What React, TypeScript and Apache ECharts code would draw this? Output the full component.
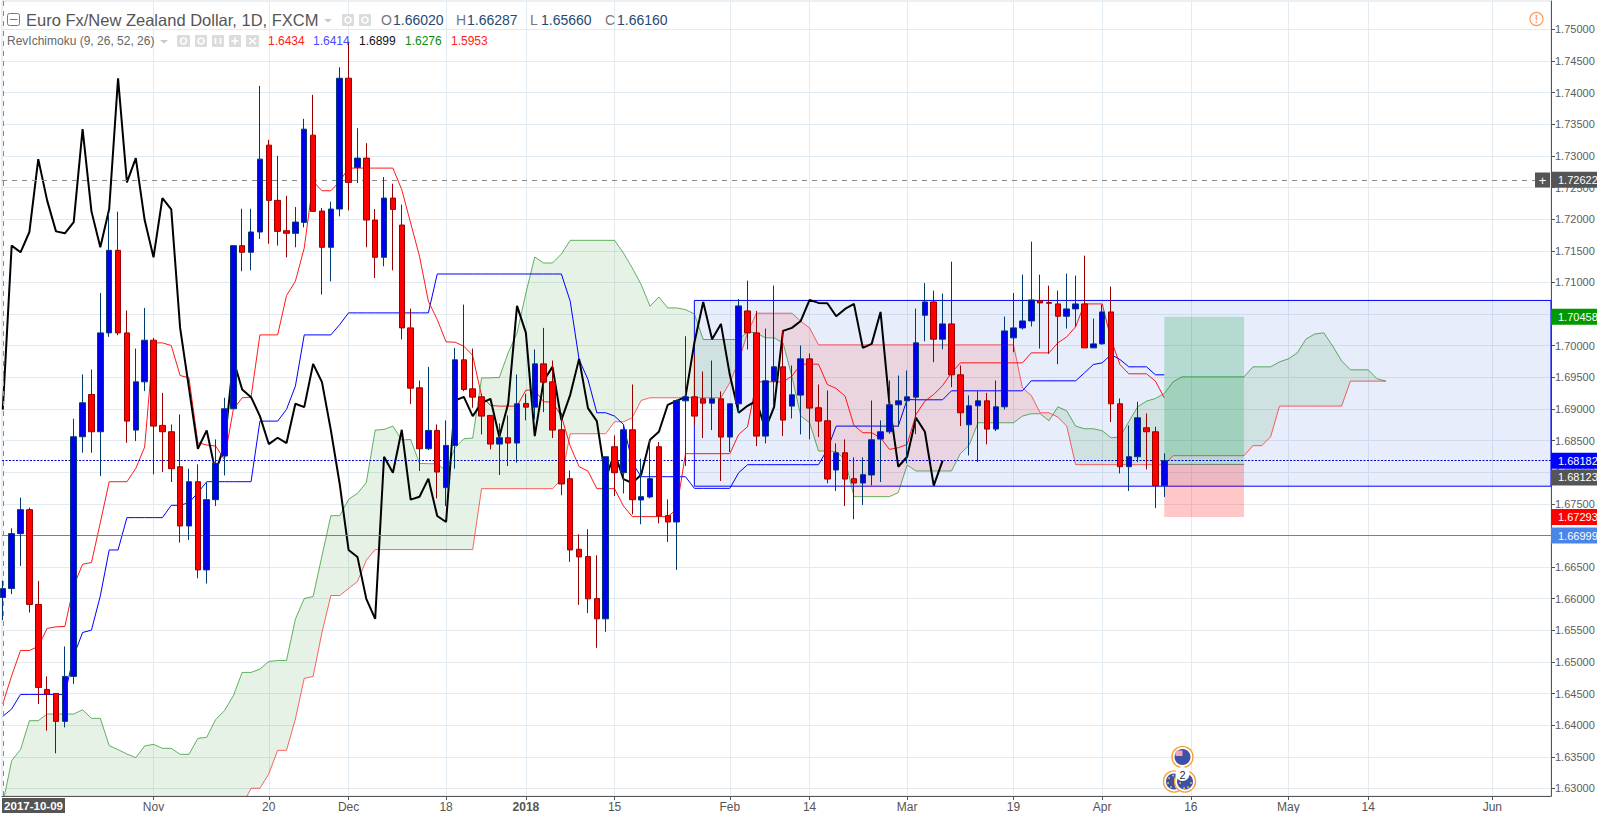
import React, { useEffect, useRef } from "react";
import * as echarts from "echarts";

const FONT = '"Liberation Sans", Arial, sans-serif';

const priceTicks = [1.63, 1.635, 1.64, 1.645, 1.65, 1.655, 1.66, 1.665, 1.67, 1.675, 1.68, 1.685, 1.69, 1.695, 1.7, 1.705, 1.71, 1.715, 1.72, 1.725, 1.73, 1.735, 1.74, 1.745, 1.75];
const dateSlots = [17, 30, 39, 50, 59, 69, 82, 91, 102, 114, 124, 134, 145, 154, 168];
const dateLabels = ["Nov", "20", "Dec", "18", "2018", "15", "Feb", "14", "Mar", "19", "Apr", "16", "May", "14", "Jun"];

const opens = [1.6602,1.66161,1.67029,1.67408,1.65909,1.64566,1.64503,1.64061,1.64772,1.68561,1.69229,1.6864,1.70203,1.71508,1.70203,1.68666,1.69429,1.70087,1.6874,1.6864,1.68087,1.6715,1.6785,1.66456,1.67566,1.68256,1.69003,1.71582,1.71477,1.71798,1.73171,1.72298,1.71819,1.71777,1.7195,1.73329,1.72129,1.71556,1.72161,1.74229,1.72819,1.72966,1.71987,1.71398,1.72334,1.71908,1.70282,1.69335,1.68371,1.68661,1.67756,1.68424,1.69777,1.69319,1.69192,1.68898,1.68445,1.68545,1.68461,1.69087,1.69029,1.69713,1.69429,1.68671,1.67898,1.66782,1.66666,1.66003,1.65682,1.68403,1.67992,1.68671,1.67561,1.67608,1.68403,1.67313,1.67213,1.69129,1.69192,1.69161,1.69092,1.69161,1.68556,1.69082,1.7055,1.70203,1.68571,1.6944,1.69666,1.69045,1.69219,1.69792,1.69019,1.68813,1.68035,1.68308,1.67898,1.67829,1.67956,1.68524,1.6864,1.69066,1.69129,1.69187,1.70482,1.70692,1.70103,1.70345,1.6954,1.6875,1.6905,1.69129,1.68682,1.69034,1.70124,1.70282,1.70392,1.70713,1.70682,1.70661,1.70466,1.70582,1.70661,1.69966,1.70029,1.70534,1.69082,1.68087,1.68245,1.68703,1.6864,1.67787];
const closes = [1.6616,1.67029,1.67408,1.65909,1.64598,1.64493,1.64061,1.64772,1.68561,1.69098,1.6864,1.70203,1.71508,1.70203,1.68808,1.69429,1.70087,1.68729,1.6864,1.68056,1.6715,1.6785,1.66456,1.67566,1.6814,1.69003,1.71582,1.71477,1.71798,1.7295,1.72298,1.71808,1.71777,1.71955,1.73424,1.72124,1.71556,1.72161,1.74229,1.72582,1.72966,1.71987,1.71398,1.72334,1.72155,1.70282,1.69329,1.68371,1.68661,1.68003,1.68424,1.69777,1.69308,1.69187,1.68887,1.68445,1.68545,1.68461,1.69082,1.69029,1.69713,1.69424,1.68666,1.67814,1.66771,1.66661,1.65998,1.65682,1.68245,1.67992,1.68671,1.67566,1.67613,1.67898,1.67308,1.67213,1.69134,1.69192,1.68887,1.69092,1.69161,1.68556,1.69082,1.70629,1.70203,1.68571,1.69445,1.69666,1.68824,1.69224,1.69792,1.69014,1.68808,1.67892,1.68308,1.67892,1.67829,1.67961,1.68513,1.6864,1.69066,1.69129,1.69192,1.70045,1.70692,1.70103,1.70345,1.6954,1.6894,1.6905,1.69129,1.68682,1.69034,1.70234,1.70282,1.70392,1.70724,1.70677,1.70671,1.70466,1.70582,1.70661,1.69966,1.70029,1.70534,1.69082,1.68087,1.68245,1.68861,1.6864,1.67787,1.68182];
const lows = [1.6566,1.66072,1.66519,1.65782,1.64335,1.63914,1.63556,1.63966,1.6465,1.68308,1.68308,1.6794,1.7014,1.70166,1.68466,1.68492,1.69282,1.67966,1.68003,1.67845,1.66887,1.66929,1.66324,1.6624,1.67466,1.6795,1.69003,1.71177,1.71192,1.71687,1.71613,1.71582,1.71398,1.71556,1.71871,1.72124,1.70808,1.71019,1.72045,1.7214,1.72571,1.71556,1.71071,1.71256,1.71192,1.70098,1.69077,1.68019,1.6835,1.67587,1.67466,1.68056,1.69282,1.69019,1.68598,1.68361,1.67956,1.68098,1.6815,1.68819,1.68835,1.6895,1.6854,1.67635,1.66582,1.65903,1.65772,1.65224,1.65477,1.67624,1.67666,1.67335,1.67177,1.67587,1.67192,1.66898,1.66456,1.68098,1.6874,1.6854,1.68666,1.67861,1.68319,1.6894,1.6994,1.68413,1.68456,1.69045,1.68571,1.6885,1.68598,1.68519,1.68556,1.67824,1.67703,1.67466,1.67256,1.67482,1.67792,1.67845,1.68608,1.68719,1.6814,1.68603,1.70071,1.6974,1.69945,1.69345,1.68729,1.68266,1.68161,1.6844,1.6865,1.68992,1.69898,1.70255,1.70303,1.69955,1.69871,1.69708,1.70271,1.70298,1.69966,1.69966,1.70019,1.68793,1.67982,1.67703,1.68161,1.68045,1.67434,1.67609];
const highs = [1.66287,1.67113,1.67598,1.6744,1.66282,1.64772,1.64503,1.65245,1.68845,1.69546,1.69624,1.70834,1.72098,1.72119,1.70556,1.69955,1.70598,1.70124,1.69255,1.68755,1.68913,1.68056,1.68124,1.67834,1.68519,1.69177,1.71582,1.72166,1.72166,1.74108,1.73256,1.73003,1.72371,1.72192,1.73587,1.73966,1.72177,1.72277,1.74403,1.74808,1.7344,1.73203,1.72161,1.72666,1.72561,1.72229,1.70587,1.6945,1.69666,1.68755,1.68819,1.69966,1.7065,1.69955,1.6924,1.68898,1.68771,1.68898,1.69545,1.6924,1.6994,1.70282,1.69766,1.6894,1.68029,1.67019,1.67098,1.66687,1.68245,1.68582,1.68755,1.69387,1.68213,1.68519,1.68477,1.67571,1.6915,1.7015,1.69861,1.69593,1.69766,1.69277,1.69082,1.7074,1.71029,1.7055,1.70271,1.7095,1.7024,1.69687,1.70003,1.69877,1.69387,1.69292,1.68456,1.68519,1.68235,1.68235,1.69134,1.68819,1.6945,1.69529,1.69608,1.70587,1.70992,1.70871,1.70824,1.71329,1.69687,1.69213,1.69282,1.69255,1.6945,1.70461,1.70834,1.71124,1.71645,1.71124,1.7095,1.70871,1.7114,1.71108,1.71424,1.70429,1.7065,1.70935,1.69166,1.6874,1.69114,1.68929,1.68719,1.68298];

const tenkan = [1.6434,1.64782,1.65182,1.65182,1.65245,1.6553,1.65556,1.65561,1.66203,1.66545,1.66572,1.67203,1.6785,1.6785,1.6785,1.68061,1.68398,1.70045,1.70045,1.70003,1.69529,1.69492,1.68466,1.6843,1.68414,1.68203,1.68993,1.69177,1.69187,1.70171,1.70171,1.70171,1.70792,1.71019,1.71545,1.72598,1.7245,1.7245,1.72598,1.72808,1.72808,1.72808,1.72808,1.72808,1.72808,1.72466,1.7194,1.71414,1.70703,1.70413,1.70061,1.70056,1.69993,1.69845,1.69203,1.69056,1.69045,1.69045,1.69045,1.69298,1.69298,1.69114,1.69108,1.68887,1.68414,1.68087,1.68019,1.6774,1.6774,1.6774,1.67466,1.67298,1.67298,1.67298,1.67298,1.67298,1.67414,1.68293,1.68293,1.68293,1.68293,1.68293,1.68293,1.68598,1.68719,1.69429,1.69429,1.69429,1.69429,1.69519,1.69708,1.69708,1.69708,1.69387,1.69324,1.69203,1.6874,1.68624,1.68624,1.68545,1.68361,1.68387,1.6844,1.68914,1.69124,1.69229,1.69371,1.69571,1.69729,1.69729,1.69729,1.69729,1.69729,1.69729,1.69729,1.69729,1.69887,1.69887,1.69887,1.70045,1.7014,1.70298,1.70661,1.70661,1.70661,1.70098,1.69703,1.69556,1.69556,1.69556,1.6944,1.69177];
const kijun = [1.6414,1.64256,1.64487,1.64487,1.64487,1.64487,1.64487,1.64487,1.65098,1.65466,1.65503,1.66045,1.66771,1.66771,1.67282,1.67282,1.67282,1.67282,1.67282,1.67477,1.67477,1.67519,1.67677,1.6785,1.6785,1.6785,1.6785,1.6785,1.6785,1.68808,1.68808,1.68808,1.68993,1.69361,1.70171,1.70171,1.70171,1.70171,1.70334,1.70519,1.70519,1.70519,1.70519,1.70519,1.70519,1.70519,1.70519,1.70519,1.70519,1.71134,1.71134,1.71134,1.71134,1.71134,1.71134,1.71134,1.71134,1.71134,1.71134,1.71134,1.71134,1.71134,1.71134,1.71134,1.70703,1.69782,1.69466,1.6894,1.6894,1.68887,1.68756,1.6815,1.67929,1.67929,1.67929,1.67929,1.67929,1.67929,1.67745,1.67745,1.67745,1.67745,1.67745,1.67992,1.68119,1.68119,1.68119,1.68119,1.68119,1.68119,1.68119,1.68119,1.68119,1.68361,1.68729,1.68729,1.68729,1.68729,1.68729,1.68729,1.68729,1.68729,1.6915,1.69145,1.69145,1.69145,1.69145,1.69287,1.69287,1.69287,1.69287,1.69287,1.69287,1.69287,1.69287,1.69287,1.69445,1.69445,1.69445,1.69445,1.69445,1.69445,1.69571,1.69703,1.69729,1.69861,1.69782,1.69666,1.69666,1.69666,1.6954,1.6954];
const chikou = [1.6899,1.71582,1.71477,1.71798,1.7295,1.72298,1.71808,1.71777,1.71955,1.73424,1.72124,1.71556,1.72161,1.74229,1.72582,1.72966,1.71987,1.71398,1.72334,1.72155,1.70282,1.69329,1.68371,1.68661,1.68003,1.68424,1.69777,1.69308,1.69187,1.68887,1.68445,1.68545,1.68461,1.69082,1.69029,1.69713,1.69424,1.68666,1.67814,1.66771,1.66661,1.65998,1.65682,1.68245,1.67992,1.68671,1.67566,1.67613,1.67898,1.67308,1.67213,1.69134,1.69192,1.68887,1.69092,1.69161,1.68556,1.69082,1.70629,1.70203,1.68571,1.69445,1.69666,1.68824,1.69224,1.69792,1.69014,1.68808,1.67892,1.68308,1.67892,1.67829,1.67961,1.68513,1.6864,1.69066,1.69129,1.69192,1.70045,1.70692,1.70103,1.70345,1.6954,1.6894,1.6905,1.69129,1.68682,1.69034,1.70234,1.70282,1.70392,1.70724,1.70677,1.70671,1.70466,1.70582,1.70661,1.69966,1.70029,1.70534,1.69082,1.68087,1.68245,1.68861,1.6864,1.67787,1.68182];
const senkouA = [1.6276,1.6344,1.63614,1.64072,1.64072,1.64177,1.64177,1.64177,1.64177,1.64245,1.64109,1.64109,1.63677,1.63614,1.63545,1.63487,1.63672,1.63698,1.63635,1.63635,1.6354,1.6354,1.63793,1.63809,1.64088,1.6423,1.64466,1.64835,1.64835,1.64887,1.65008,1.65024,1.65024,1.65677,1.66003,1.66035,1.66677,1.67313,1.67313,1.67571,1.67666,1.67835,1.68666,1.68677,1.68729,1.68508,1.68519,1.6814,1.68135,1.68135,1.68019,1.68387,1.68529,1.6854,1.69492,1.69492,1.69498,1.69887,1.70203,1.70834,1.71403,1.71308,1.71308,1.7145,1.71666,1.71666,1.71666,1.71666,1.71666,1.71666,1.71466,1.71229,1.70966,1.70624,1.70771,1.70598,1.70598,1.70571,1.70503,1.70098,1.70098,1.70098,1.70098,1.70098,1.70219,1.70203,1.70124,1.70124,1.70045,1.69519,1.68887,1.68782,1.68335,1.68335,1.68324,1.68203,1.67614,1.67614,1.67614,1.67614,1.67614,1.67677,1.68114,1.68019,1.68019,1.68019,1.68019,1.68019,1.68293,1.6843,1.68782,1.68782,1.68782,1.68782,1.68782,1.68887,1.68924,1.68924,1.68813,1.69034,1.68971,1.68729,1.68687,1.68687,1.68656,1.68545,1.68556,1.68798,1.69034,1.69124,1.69166,1.69245,1.69429,1.69508,1.69508,1.69508,1.69508,1.69508,1.69508,1.69508,1.69508,1.69666,1.69666,1.69666,1.69745,1.69792,1.69887,1.70108,1.70187,1.70203,1.69993,1.69761,1.69619,1.69619,1.69619,1.69477,1.6944];
const senkouB = [1.5953,1.5953,1.5953,1.5953,1.5953,1.601,1.601,1.601,1.601,1.601,1.606,1.606,1.606,1.606,1.606,1.612,1.612,1.612,1.612,1.612,1.618,1.618,1.618,1.618,1.623,1.623,1.623,1.6273,1.63003,1.63003,1.6323,1.63603,1.63603,1.64098,1.6474,1.64772,1.65466,1.66051,1.66051,1.66161,1.66272,1.66608,1.66777,1.66777,1.66777,1.66777,1.66777,1.66777,1.66777,1.66777,1.66777,1.66777,1.66777,1.66777,1.6774,1.6774,1.6774,1.6774,1.6774,1.6774,1.6774,1.6774,1.6774,1.67887,1.68608,1.68608,1.68608,1.68608,1.68608,1.68798,1.68798,1.68861,1.69135,1.69177,1.69177,1.69177,1.69177,1.69177,1.69177,1.69177,1.69177,1.69177,1.69414,1.69756,1.70203,1.70514,1.70514,1.70514,1.70514,1.70514,1.70387,1.70282,1.70014,1.70014,1.70014,1.70014,1.70014,1.70014,1.70014,1.70014,1.70014,1.70014,1.70014,1.70014,1.70014,1.70014,1.70014,1.70014,1.70014,1.70014,1.70014,1.70014,1.70014,1.70014,1.70014,1.69335,1.69213,1.6894,1.6894,1.68871,1.68729,1.68119,1.68119,1.68119,1.68119,1.68119,1.68119,1.68119,1.68119,1.68119,1.68119,1.68119,1.68261,1.68261,1.68261,1.68261,1.68261,1.68261,1.68261,1.68261,1.68261,1.68419,1.68419,1.68561,1.69045,1.69045,1.69045,1.69045,1.69045,1.69045,1.69045,1.69045,1.6944,1.6944,1.6944,1.6944,1.6944];

const rangeTop = 1.70716;
const rangeBottom = 1.67779;
const rangeStart = 78;
const positionStart = 131;
const positionEnd = 140;
const entryPrice = 1.68123;
const targetPrice = 1.70458;
const stopPrice = 1.67293;
const crosshairPrice = 1.72622;
const lastPrice = 1.68182;
const alertPrice = 1.66999;

const X_MIN = -0.09;
const X_MAX = 174.62;
const Y_MIN = 1.62881;
const Y_MAX = 1.7545;

const toPairs = (v: number[]) => v.map((p, i) => [i, p]);

function cloudRuns() {
  // Split the area between the two spans wherever they cross.
  const runs: { up: boolean; top: number[][]; bot: number[][] }[] = [];
  let cur: any = null;
  for (let i = 0; i < senkouA.length; i++) {
    const a = senkouA[i];
    const b = senkouB[i];
    const up = a >= b;
    if (!cur) {
      cur = { up, top: [[i, a]], bot: [[i, b]] };
    } else if (cur.up === up) {
      cur.top.push([i, a]);
      cur.bot.push([i, b]);
    } else {
      const d0 = senkouA[i - 1] - senkouB[i - 1];
      const d1 = a - b;
      const t = d0 / (d0 - d1);
      const cx = i - 1 + t;
      const cy = senkouA[i - 1] + (a - senkouA[i - 1]) * t;
      cur.top.push([cx, cy]);
      cur.bot.push([cx, cy]);
      runs.push(cur);
      cur = { up, top: [[cx, cy], [i, a]], bot: [[cx, cy], [i, b]] };
    }
  }
  if (cur) runs.push(cur);
  return runs;
}

function tag(value: number, bg: string, offsetY = 0) {
  return {
    yAxis: value,
    lineStyle: { color: "transparent", width: 0, type: "solid" },
    label: {
      show: true,
      position: "end",
      formatter: value.toFixed(5),
      color: "#fff",
      backgroundColor: bg,
      fontFamily: FONT,
      fontSize: 11,
      lineHeight: 12,
      width: 39,
      padding: [2, 0, 2, 7],
      distance: 0,
      offset: [0, offsetY],
    },
  };
}

function legendText(x: number, y: number, text: string, fill: string, fontSize: number) {
  return {
    type: "text",
    x,
    y,
    silent: true,
    z: 20,
    style: { text, fill, font: `${fontSize}px ${FONT}`, textVerticalAlign: "middle" },
  };
}
function grayBox(x: number, y: number, w: number, h: number) {
  return { type: "rect", silent: true, z: 20, shape: { x, y, width: w, height: h, r: 1 }, style: { fill: "#dcdcdc" } };
}
function caret(x: number, y: number) {
  return { type: "polygon", silent: true, z: 20, shape: { points: [[x, y], [x + 8, y], [x + 4, y + 3.5]] }, style: { fill: "#c8c8c8" } };
}
function dotIcon(cx: number, cy: number) {
  return { type: "circle", silent: true, z: 21, shape: { cx, cy, r: 3 }, style: { fill: "none", stroke: "#fff", lineWidth: 1.6 } };
}
function strokeIcon(x1: number, y1: number, x2: number, y2: number) {
  return { type: "line", silent: true, z: 21, shape: { x1, y1, x2, y2 }, style: { stroke: "#fff", lineWidth: 1.6 } };
}
function star(cx: number, cy: number) {
  return { type: "circle", silent: true, z: 24, shape: { cx, cy, r: 0.8 }, style: { fill: "#f5d742" } };
}

export default function App() {
  const ref = useRef<HTMLDivElement>(null);
  useEffect(() => {
    if (!ref.current) return;
    const chart = echarts.init(ref.current, undefined, { renderer: "svg" });
    const runs = cloudRuns();
    const lineSeries = (data: number[], color: string, width: number, z: number, opacity = 1) => ({
      type: "line",
      data: toPairs(data),
      showSymbol: false,
      symbol: "none",
      silent: true,
      clip: true,
      z,
      lineStyle: { color, width, opacity },
    });

    const option: any = {
      animation: false,
      backgroundColor: "#fff",
      grid: { left: 2, right: 52, top: 1, bottom: 16, show: true, borderColor: "#d9dfe4", borderWidth: 1 },
      xAxis: {
        type: "value",
        min: X_MIN,
        max: X_MAX,
        axisLine: { onZero: false, lineStyle: { color: "#555", width: 1 } },
        axisTick: { length: 4, customValues: dateSlots, lineStyle: { color: "#555" } },
        splitLine: { show: true, lineStyle: { color: "#e3ebf2", width: 1 } },
        axisLabel: {
          customValues: dateSlots,
          hideOverlap: false,
          showMinLabel: true,
          showMaxLabel: true,
          margin: 5,
          color: "#555",
          fontFamily: FONT,
          fontSize: 12,
          formatter: (v: number) => {
            const s = dateLabels[dateSlots.indexOf(v)] ?? "";
            return s === "2018" ? `{y|${s}}` : s;
          },
          rich: { y: { fontWeight: "bold", color: "#555", fontFamily: FONT, fontSize: 12 } },
        },
      },
      yAxis: {
        type: "value",
        position: "right",
        min: Y_MIN,
        max: Y_MAX,
        axisLine: { show: true, onZero: false, lineStyle: { color: "#555", width: 1 } },
        axisTick: { show: true, length: 4, customValues: priceTicks, lineStyle: { color: "#555" } },
        splitLine: { show: true, lineStyle: { color: "#e3ebf2", width: 1 } },
        axisLabel: {
          customValues: priceTicks,
          showMinLabel: true,
          showMaxLabel: true,
          margin: 4,
          color: "#5d5d5d",
          fontFamily: FONT,
          fontSize: 11,
          formatter: (v: number) => v.toFixed(5),
        },
      },
      series: [
        {
          type: "line",
          name: "range",
          data: [[rangeStart, rangeTop]],
          showSymbol: false,
          symbol: "none",
          silent: true,
          z: 1,
          lineStyle: { opacity: 0 },
          markArea: {
            silent: true,
            itemStyle: { color: "rgba(33,90,210,0.11)", borderColor: "#0000ff", borderWidth: 1 },
            data: [[{ xAxis: rangeStart, yAxis: rangeTop }, { xAxis: X_MAX, yAxis: rangeBottom }]],
          },
        },
        {
          type: "custom",
          name: "cloud",
          data: runs.map((_, i) => [i, 0]),
          encode: { x: 0, y: 1 },
          silent: true,
          clip: true,
          z: 2,
          renderItem: (params: any, api: any) => {
            const run = runs[params.dataIndex];
            const pts = run.top.concat(run.bot.slice().reverse()).map((p) => api.coord(p));
            return {
              type: "polygon",
              shape: { points: pts },
              style: { fill: run.up ? "rgba(0,128,0,0.1)" : "rgba(255,0,0,0.1)", stroke: "none" },
            };
          },
        },
        lineSeries(senkouA, "#008000", 1, 3, 0.6),
        lineSeries(senkouB, "#ff0000", 1, 3, 0.6),
        lineSeries(kijun, "#0000ff", 1, 4),
        lineSeries(tenkan, "#ff0000", 1, 4, 0.9),
        lineSeries(chikou, "#000000", 2, 4),
        {
          type: "line",
          name: "position",
          data: [[positionStart, entryPrice], [positionEnd, entryPrice]],
          showSymbol: false,
          symbol: "none",
          silent: true,
          z: 6,
          lineStyle: { color: "#555", width: 1, opacity: 0.7 },
          markArea: {
            silent: true,
            data: [
              [
                { xAxis: positionStart, yAxis: targetPrice, itemStyle: { color: "rgba(0,150,70,0.22)" } },
                { xAxis: positionEnd, yAxis: entryPrice },
              ],
              [
                { xAxis: positionStart, yAxis: entryPrice, itemStyle: { color: "rgba(255,0,0,0.22)" } },
                { xAxis: positionEnd, yAxis: stopPrice },
              ],
            ],
          },
        },
        {
          type: "candlestick",
          name: "EURNZD",
          z: 7,
          barWidth: 6,
          silent: true,
          clip: true,
          data: opens.map((o, i) => [i, o, closes[i], lows[i], highs[i]]),
          itemStyle: {
            color: "#0000ee",
            color0: "#ff0000",
            borderColor: "#003a70",
            borderColor0: "#990000",
            borderWidth: 1,
          },
        },
        {
          type: "line",
          name: "levels",
          data: [[0, crosshairPrice]],
          showSymbol: false,
          symbol: "none",
          silent: true,
          z: 8,
          lineStyle: { opacity: 0 },
          markLine: {
            silent: true,
            symbol: ["none", "none"],
            animation: false,
            precision: 5,
            data: [
              { ...tag(crosshairPrice, "#555555"), lineStyle: { color: "#8a8a8a", type: [5, 5], width: 1 } },
              tag(targetPrice, "#009900"),
              { ...tag(lastPrice, "#0000ff"), lineStyle: { color: "#0000cc", type: [2, 1.5], width: 1 } },
              tag(entryPrice, "#555555", 13),
              tag(stopPrice, "#ff0000"),
              { ...tag(alertPrice, "#4a86e8"), lineStyle: { color: "#4a86e8", type: "solid", width: 1.2 } },
              { xAxis: 0, lineStyle: { color: "#8a8a8a", type: [5, 5], width: 1 }, label: { show: false } },
            ],
          },
        },
      ],
      graphic: [
        // header: symbol line
        { type: "rect", silent: true, z: 20, shape: { x: 7.5, y: 13.5, width: 12, height: 12, r: 2 }, style: { fill: "#fff", stroke: "#777", lineWidth: 1 } },
        { type: "line", silent: true, z: 21, shape: { x1: 10, y1: 19.5, x2: 17.5, y2: 19.5 }, style: { stroke: "#777", lineWidth: 1 } },
        legendText(26, 20, "Euro Fx/New Zealand Dollar, 1D, FXCM", "#555", 16.5),
        caret(324, 19),
        grayBox(342, 14, 12, 12),
        dotIcon(348, 20),
        grayBox(359, 14, 12, 12),
        dotIcon(365, 20),
        legendText(381, 20, "O", "#777", 14),
        legendText(393, 20, "1.66020", "#1f4a75", 14),
        legendText(456, 20, "H", "#777", 14),
        legendText(467, 20, "1.66287", "#1f4a75", 14),
        legendText(530, 20, "L", "#777", 14),
        legendText(541, 20, "1.65660", "#1f4a75", 14),
        legendText(605, 20, "C", "#777", 14),
        legendText(617, 20, "1.66160", "#1f4a75", 14),
        // header: indicator line
        legendText(7, 41, "RevIchimoku (9, 26, 52, 26)", "#666", 12),
        caret(160, 40),
        grayBox(177, 35, 13, 12),
        dotIcon(183.5, 41),
        grayBox(195, 35, 12, 12),
        dotIcon(201, 41),
        grayBox(212, 35, 12, 12),
        strokeIcon(215.5, 38, 215.5, 44),
        strokeIcon(220.5, 38, 220.5, 44),
        grayBox(229, 35, 12, 12),
        strokeIcon(231.5, 41, 238.5, 41),
        strokeIcon(235, 37.5, 235, 44.5),
        grayBox(246, 35, 13, 12),
        strokeIcon(249, 38, 256, 44),
        strokeIcon(256, 38, 249, 44),
        legendText(268, 41, "1.6434", "#ff2020", 12),
        legendText(313, 41, "1.6414", "#4a4aff", 12),
        legendText(359, 41, "1.6899", "#111", 12),
        legendText(405, 41, "1.6276", "#0a8a0a", 12),
        legendText(451, 41, "1.5953", "#ff2020", 12),
        // alert icon
        { type: "circle", silent: true, z: 20, shape: { cx: 1536.5, cy: 19, r: 6.5 }, style: { fill: "#fff", stroke: "#ff9c5a", lineWidth: 1.2 } },
        { type: "text", silent: true, z: 21, x: 1536.5, y: 19, style: { text: "!", fill: "#ff9c5a", font: `bold 10px ${FONT}`, textAlign: "center", textVerticalAlign: "middle" } },
        // crosshair handle
        { type: "rect", silent: true, z: 20, shape: { x: 1535, y: 172.5, width: 15, height: 15 }, style: { fill: "#555" } },
        { type: "text", silent: true, z: 21, x: 1542.5, y: 180, style: { text: "+", fill: "#fff", font: `13px ${FONT}`, textAlign: "center", textVerticalAlign: "middle" } },
        // crosshair date tag
        { type: "rect", silent: true, z: 20, shape: { x: 2, y: 798, width: 63, height: 15 }, style: { fill: "#555" } },
        { type: "text", silent: true, z: 21, x: 33.5, y: 806, style: { text: "2017-10-09", fill: "#fff", font: `bold 11.5px ${FONT}`, textAlign: "center", textVerticalAlign: "middle" } },
        // economic event flags
        { type: "circle", silent: true, z: 20, shape: { cx: 1182.5, cy: 757, r: 10.5 }, style: { fill: "#fff", stroke: "#f5a030", lineWidth: 1.4 } },
        { type: "circle", silent: true, z: 21, shape: { cx: 1182.5, cy: 757, r: 8 }, style: { fill: "#3f51a5" } },
        { type: "rect", silent: true, z: 22, shape: { x: 1175.5, y: 750.5, width: 7, height: 5.5 }, style: { fill: "#f4a6b8" } },
        { type: "circle", silent: true, z: 20, shape: { cx: 1174, cy: 781.5, r: 10.5 }, style: { fill: "#fff", stroke: "#f5a030", lineWidth: 1.4 } },
        { type: "circle", silent: true, z: 21, shape: { cx: 1174, cy: 781.5, r: 8 }, style: { fill: "#3f51a5" } },
        { type: "circle", silent: true, z: 22, shape: { cx: 1185, cy: 781.5, r: 10.5 }, style: { fill: "#fff", stroke: "#f5a030", lineWidth: 1.4 } },
        { type: "circle", silent: true, z: 23, shape: { cx: 1185, cy: 781.5, r: 8 }, style: { fill: "#3f51a5" } },
        star(1169, 778), star(1173, 775.5), star(1168, 783), star(1171, 787), star(1176, 787), star(1180, 783),
        star(1188, 787), star(1191, 783), star(1184, 788),
        { type: "circle", silent: true, z: 25, shape: { cx: 1182.5, cy: 774, r: 7 }, style: { fill: "#fff" } },
        { type: "text", silent: true, z: 26, x: 1182.5, y: 774.5, style: { text: "2", fill: "#333", font: `11px ${FONT}`, textAlign: "center", textVerticalAlign: "middle" } },
      ],
    };
    chart.setOption(option);
    return () => chart.dispose();
  }, []);
  return <div ref={ref} style={{ position: "absolute", left: 0, top: 0, width: 1603, height: 813 }} />;
}
